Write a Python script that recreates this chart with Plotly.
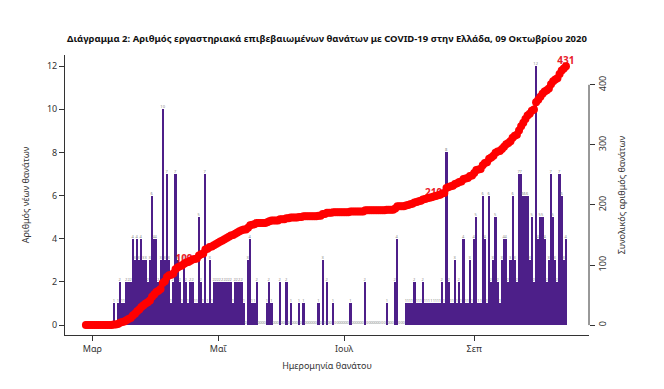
import numpy as np
import pandas as pd
import plotly.graph_objects as go

# ---------------- data ----------------
start_date = "2020-02-27"

daily_deaths = [
    # Feb 27 - Mar 10
    0, 0, 0, 0, 0, 0, 0, 0, 0, 0, 0, 0, 0,
    # d13 - d36
    1, 0, 1, 2, 1, 1, 2, 2, 2, 4, 3, 4, 3, 4, 3, 3, 2, 3, 6, 4, 4, 2, 3, 10,
    # d37 - d60
    3, 7, 3, 1, 2, 7, 3, 2, 1, 3, 2, 1, 2, 2, 1, 1, 5, 2, 1, 7, 1, 3, 1, 2,
    # d61 - d74
    2, 2, 2, 2, 2, 2, 2, 2, 1, 2, 2, 2, 2, 1,
    # d75 - d111
    0, 3, 4, 1, 1, 2, 0, 0, 0, 0, 1, 2, 1, 0, 0, 0, 2, 0, 0, 2, 0, 1, 0, 0, 0,
    1, 0, 1, 0, 0, 0, 0, 0, 0, 1, 0, 3,
    # d112 - d148
    0, 2, 0, 0, 1, 0, 0, 0, 0, 0, 0, 0, 1, 0, 0, 0, 0, 0, 0, 2, 0, 0, 0, 0, 0,
    0, 0, 0, 0, 1, 0, 0, 0, 2, 4, 0, 0,
    # d149 - d167
    0, 1, 1, 1, 1, 2, 1, 1, 1, 2, 1, 1, 1, 1, 1, 1, 1, 1, 2,
    # d168 - d187
    1, 8, 2, 1, 1, 3, 1, 2, 1, 4, 1, 1, 3, 1, 4, 5, 1, 1, 6, 4,
    # d188 - d211
    1, 6, 2, 3, 5, 2, 1, 3, 4, 4, 2, 3, 6, 3, 2, 7, 7, 6, 6, 6, 3, 5, 2, 12,
    # d212 - d225 (Oct 9)
    4, 5, 5, 4, 2, 3, 7, 5, 3, 2, 7, 6, 3, 4,
]

tick_dates = ["2020-03-01", "2020-04-29", "2020-06-27", "2020-08-27"]
tick_labels = ["Μαρ", "Μαΐ", "Ιουλ", "Σεπ"]

left_ticks = [0, 2, 4, 6, 8, 10, 12]
right_ticks = [0, 100, 200, 300, 400]

label_values = [109, 219, 431]
label_positions = ["middle left", "middle left", "top center"]

title_text = ("Διάγραμμα 2: Αριθμός εργαστηριακά επιβεβαιωμένων θανάτων με "
              "COVID-19 στην Ελλάδα, 09 Οκτωβρίου 2020")

# ---------------- derived ----------------
dates = pd.date_range(start_date, periods=len(daily_deaths), freq="D")
cumulative = np.cumsum(daily_deaths)

lab_idx = [int(np.argmax(cumulative >= v)) for v in label_values]
lab_x = [dates[i] for i in lab_idx]
lab_y = [int(cumulative[i]) for i in lab_idx]
lab_text = [f"<b>{v}</b>" for v in lab_y]

PURPLE = "#4d1f89"
RED = "#ff0000"
AX = "#333333"
FONT = "Noto Sans"

# the page body has an 8px margin: figure is sized so that it fits the window
W, H = 648, 373

fig = go.Figure()

fig.add_trace(go.Bar(
    x=dates, y=daily_deaths,
    marker=dict(color=PURPLE, line=dict(width=0)),
    text=[str(v) for v in daily_deaths],
    textposition="outside", textangle=0, constraintext="none",
    textfont=dict(size=4, color="#8a8a8a"),
    cliponaxis=False,
    yaxis="y", showlegend=False, hoverinfo="x+y",
))

fig.add_trace(go.Scatter(
    x=lab_x, y=lab_y, mode="text", text=lab_text,
    textposition=label_positions,
    textfont=dict(size=10, color="#e8202a", family=FONT),
    yaxis="y2", showlegend=False, cliponaxis=False,
))

fig.add_trace(go.Scatter(
    x=dates, y=cumulative, mode="lines+markers",
    line=dict(color=RED, width=3),
    marker=dict(color=RED, size=8),
    yaxis="y2", showlegend=False, cliponaxis=False,
))

x_lo = dates[0] - pd.Timedelta(hours=9.8 * 24)
x_hi = dates[-1] + pd.Timedelta(hours=10.8 * 24)

fig.update_layout(
    width=W, height=H,
    margin=dict(l=57, r=67, t=47, b=44),
    paper_bgcolor="white", plot_bgcolor="white",
    font=dict(family=FONT, size=9, color=AX),
    bargap=0,
    title=dict(text=f"<b>{title_text}</b>", x=0.5, xref="paper",
               xanchor="center", y=1 - 31 / H, yref="container",
               yanchor="middle", font=dict(size=9.5, color="#111111")),
    xaxis=dict(
        type="date", range=[x_lo, x_hi],
        tickvals=tick_dates, ticktext=tick_labels,
        ticks="outside", ticklen=5, tickcolor=AX,
        showline=True, linecolor=AX, linewidth=1,
        showgrid=False, zeroline=False,
        tickfont=dict(size=9, color=AX),
        title=dict(text="Ημερομηνία θανάτου", font=dict(size=9, color=AX),
                   standoff=8),
    ),
    yaxis=dict(
        range=[-0.46, 12.51], tickvals=left_ticks,
        ticks="outside", ticklen=5, tickcolor=AX,
        showline=True, linecolor=AX, linewidth=1,
        showgrid=False, zeroline=False,
        tickfont=dict(size=9, color=AX),
        title=dict(text="Αριθμός νέων θανάτων", font=dict(size=9, color=AX),
                   standoff=15),
    ),
    yaxis2=dict(
        overlaying="y", side="right",
        range=[-16.5, 449.6], tickvals=right_ticks, tickangle=-90,
        ticks="outside", ticklen=5, tickcolor=AX,
        showline=False, showgrid=False, zeroline=False,
        tickfont=dict(size=9, color=AX),
        title=dict(text="Συνολικός αριθμός θανάτων",
                   font=dict(size=9, color=AX), standoff=10),
    ),
    shapes=[dict(type="line", xref="paper", x0=1, x1=1, yref="y2",
                 y0=right_ticks[0], y1=right_ticks[-1],
                 line=dict(color=AX, width=1))],
)

fig.write_html("out.html")
